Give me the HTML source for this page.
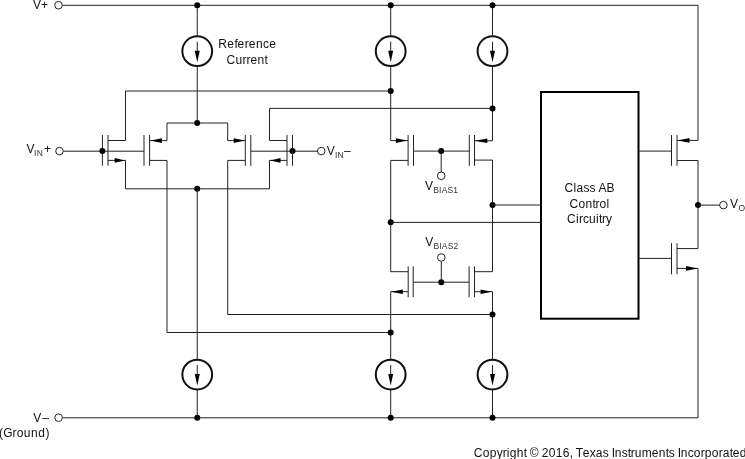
<!DOCTYPE html>
<html><head><meta charset="utf-8"><style>
html,body{margin:0;padding:0;background:#fff;}
svg{display:block;will-change:transform;font-family:"Liberation Sans",sans-serif;}
</style></head><body>
<svg width="745" height="459" viewBox="0 0 745 459">
<rect width="745" height="459" fill="#fff"/>
<polyline points="62.6,5.3 698,5.3 698,140.4" fill="none" stroke="#222" stroke-width="1"/>
<circle cx="58.5" cy="5.2" r="3.8" fill="#fff" stroke="#222" stroke-width="1"/>
<text x="33.05 41.05" y="8.7" font-size="12" fill="#111">V+</text>
<polyline points="62.8,417.8 698,417.8 698,268.4" fill="none" stroke="#222" stroke-width="1"/>
<circle cx="58.6" cy="417.7" r="3.8" fill="#fff" stroke="#222" stroke-width="1"/>
<text x="33.15" y="421.8" font-size="12" fill="#111">V</text>
<text x="42.3" y="421.8" font-size="12" fill="#111">–</text>
<text x="-0.94 3.26 12.46 16.66 23.86 31.06 38.26 45.46" y="436.7" font-size="12" fill="#111">(Ground)</text>
<circle cx="197.25" cy="51.2" r="14.9" fill="none" stroke="#111" stroke-width="2"/>
<polyline points="197.25,41.7 197.25,52.2" fill="none" stroke="#222" stroke-width="1"/>
<polygon points="197.25,62.2 194.75,50.7 199.75,50.7" fill="#000"/>
<polyline points="197.25,5 197.25,36.3" fill="none" stroke="#222" stroke-width="1"/>
<circle cx="197.25" cy="5.3" r="3.0" fill="#000"/>
<circle cx="197.25" cy="374.6" r="14.9" fill="none" stroke="#111" stroke-width="2"/>
<polyline points="197.25,365.1 197.25,375.6" fill="none" stroke="#222" stroke-width="1"/>
<polygon points="197.25,385.6 194.75,374.1 199.75,374.1" fill="#000"/>
<polyline points="197.25,389.5 197.25,417.8" fill="none" stroke="#222" stroke-width="1"/>
<circle cx="197.25" cy="417.7" r="3.0" fill="#000"/>
<circle cx="390.7" cy="51.2" r="14.9" fill="none" stroke="#111" stroke-width="2"/>
<polyline points="390.7,41.7 390.7,52.2" fill="none" stroke="#222" stroke-width="1"/>
<polygon points="390.7,62.2 388.2,50.7 393.2,50.7" fill="#000"/>
<polyline points="390.7,5 390.7,36.3" fill="none" stroke="#222" stroke-width="1"/>
<circle cx="390.7" cy="5.3" r="3.0" fill="#000"/>
<circle cx="390.7" cy="374.6" r="14.9" fill="none" stroke="#111" stroke-width="2"/>
<polyline points="390.7,365.1 390.7,375.6" fill="none" stroke="#222" stroke-width="1"/>
<polygon points="390.7,385.6 388.2,374.1 393.2,374.1" fill="#000"/>
<polyline points="390.7,389.5 390.7,417.8" fill="none" stroke="#222" stroke-width="1"/>
<circle cx="390.7" cy="417.7" r="3.0" fill="#000"/>
<circle cx="492.5" cy="51.2" r="14.9" fill="none" stroke="#111" stroke-width="2"/>
<polyline points="492.5,41.7 492.5,52.2" fill="none" stroke="#222" stroke-width="1"/>
<polygon points="492.5,62.2 490.0,50.7 495.0,50.7" fill="#000"/>
<polyline points="492.5,5 492.5,36.3" fill="none" stroke="#222" stroke-width="1"/>
<circle cx="492.5" cy="5.3" r="3.0" fill="#000"/>
<circle cx="492.5" cy="374.6" r="14.9" fill="none" stroke="#111" stroke-width="2"/>
<polyline points="492.5,365.1 492.5,375.6" fill="none" stroke="#222" stroke-width="1"/>
<polygon points="492.5,385.6 490.0,374.1 495.0,374.1" fill="#000"/>
<polyline points="492.5,389.5 492.5,417.8" fill="none" stroke="#222" stroke-width="1"/>
<circle cx="492.5" cy="417.7" r="3.0" fill="#000"/>
<polyline points="197.25,66 197.25,123" fill="none" stroke="#222" stroke-width="1"/>
<polyline points="390.7,66 390.7,140.6" fill="none" stroke="#222" stroke-width="1"/>
<polyline points="492.5,66 492.5,140.8" fill="none" stroke="#222" stroke-width="1"/>
<circle cx="390.7" cy="91" r="3.0" fill="#000"/>
<circle cx="492.5" cy="108.4" r="3.0" fill="#000"/>
<text x="218.22 227.34 234.46 237.58 244.7 248.82 255.94 263.06 269.18" y="48" font-size="12" fill="#111">Reference</text>
<text x="226.39 235.39 242.39 246.39 250.39 257.39 264.39" y="63.7" font-size="12" fill="#111">Current</text>
<polyline points="125.5,91 390.7,91" fill="none" stroke="#222" stroke-width="1"/>
<polyline points="125.5,91 125.5,140.5 108,140.5" fill="none" stroke="#222" stroke-width="1"/>
<polyline points="108,135 108,165.8" fill="none" stroke="#222" stroke-width="1"/>
<polyline points="102.4,135 102.4,165.8" fill="none" stroke="#222" stroke-width="1"/>
<polyline points="108,160.4 125.5,160.4 125.5,188.8 269.5,188.8 269.5,160.4 287,160.4" fill="none" stroke="#222" stroke-width="1"/>
<polygon points="125,160.4 114.7,158.1 114.7,162.70000000000002" fill="#000"/>
<circle cx="197.2" cy="188.8" r="3.0" fill="#000"/>
<polyline points="63.3,151.2 144,151.2" fill="none" stroke="#222" stroke-width="1"/>
<circle cx="102.4" cy="151.1" r="3.0" fill="#000"/>
<circle cx="59.5" cy="151.1" r="3.8" fill="#fff" stroke="#222" stroke-width="1"/>
<polyline points="144,135 144,165.8" fill="none" stroke="#222" stroke-width="1"/>
<polyline points="149.6,135 149.6,165.8" fill="none" stroke="#222" stroke-width="1"/>
<polyline points="149.6,140.6 167,140.6 167,123 227.7,123 227.7,140.6 245.3,140.6" fill="none" stroke="#222" stroke-width="1"/>
<polygon points="150.8,140.6 161.9,138.29999999999998 161.9,142.9" fill="#000"/>
<circle cx="197.2" cy="123" r="3.0" fill="#000"/>
<polyline points="149.6,160.4 167,160.4 167,332.5 390.7,332.5" fill="none" stroke="#222" stroke-width="1"/>
<polyline points="245.3,135 245.3,165.8" fill="none" stroke="#222" stroke-width="1"/>
<polyline points="250.8,135 250.8,165.8" fill="none" stroke="#222" stroke-width="1"/>
<polygon points="244.6,140.6 233.7,138.29999999999998 233.7,142.9" fill="#000"/>
<polyline points="245.3,160.4 227.7,160.4 227.7,314.5 492.5,314.5" fill="none" stroke="#222" stroke-width="1"/>
<polyline points="250.8,151.2 317.4,151.2" fill="none" stroke="#222" stroke-width="1"/>
<circle cx="292.5" cy="151.1" r="3.0" fill="#000"/>
<polyline points="287,135 287,165.8" fill="none" stroke="#222" stroke-width="1"/>
<polyline points="292.5,135 292.5,165.8" fill="none" stroke="#222" stroke-width="1"/>
<polyline points="287,140.5 269.5,140.5 269.5,108.4 492.5,108.4" fill="none" stroke="#222" stroke-width="1"/>
<polygon points="270.2,160.4 280.5,158.1 280.5,162.70000000000002" fill="#000"/>
<circle cx="321.2" cy="151.1" r="3.8" fill="#fff" stroke="#222" stroke-width="1"/>
<polyline points="197.25,188.8 197.25,359.5" fill="none" stroke="#222" stroke-width="1"/>
<text x="26.45" y="152.7" font-size="12" fill="#111">V</text>
<text x="34.12 36.68" y="156" font-size="8.5" fill="#333">IN</text>
<text x="44.01" y="152.5" font-size="12" fill="#111">+</text>
<text x="326.65" y="155.1" font-size="12" fill="#111">V</text>
<text x="334.92 337.48" y="158" font-size="8.5" fill="#333">IN</text>
<text x="344.0" y="155" font-size="12" fill="#111">–</text>
<polyline points="408.1,135 408.1,165.8" fill="none" stroke="#222" stroke-width="1"/>
<polyline points="413.5,135 413.5,165.8" fill="none" stroke="#222" stroke-width="1"/>
<polyline points="390.7,140.6 408.1,140.6" fill="none" stroke="#222" stroke-width="1"/>
<polygon points="407.3,140.6 395.9,138.29999999999998 395.9,142.9" fill="#000"/>
<polyline points="408.1,160.4 390.7,160.4 390.7,271.7 408.2,271.7" fill="none" stroke="#222" stroke-width="1"/>
<polyline points="413.5,151.1 469.3,151.1" fill="none" stroke="#222" stroke-width="1"/>
<circle cx="441.2" cy="151.1" r="3.0" fill="#000"/>
<polyline points="441.2,151.1 441.2,172" fill="none" stroke="#222" stroke-width="1"/>
<circle cx="441.2" cy="175.8" r="3.8" fill="#fff" stroke="#222" stroke-width="1"/>
<text x="425.05" y="190" font-size="12" fill="#111">V</text>
<text x="433.2 439.07 441.63 447.5 453.37" y="193" font-size="8.5" fill="#333">BIAS1</text>
<polyline points="469.3,135 469.3,165.8" fill="none" stroke="#222" stroke-width="1"/>
<polyline points="474.5,135 474.5,165.8" fill="none" stroke="#222" stroke-width="1"/>
<polyline points="474.5,140.8 492.5,140.8" fill="none" stroke="#222" stroke-width="1"/>
<polygon points="475,140.8 487.3,138.5 487.3,143.10000000000002" fill="#000"/>
<polyline points="474.5,160.1 492.5,160.1 492.5,271.7 474.5,271.7" fill="none" stroke="#222" stroke-width="1"/>
<circle cx="492.5" cy="205" r="3.0" fill="#000"/>
<polyline points="492.5,205 541,205" fill="none" stroke="#222" stroke-width="1"/>
<circle cx="390.7" cy="222.3" r="3.0" fill="#000"/>
<polyline points="390.7,222.4 541,222.4" fill="none" stroke="#222" stroke-width="1"/>
<polyline points="408.2,266.3 408.2,297.2" fill="none" stroke="#222" stroke-width="1"/>
<polyline points="413.2,266.3 413.2,297.2" fill="none" stroke="#222" stroke-width="1"/>
<polyline points="469.1,266.3 469.1,297.2" fill="none" stroke="#222" stroke-width="1"/>
<polyline points="474.5,266.3 474.5,297.2" fill="none" stroke="#222" stroke-width="1"/>
<polyline points="413.2,282.2 469.1,282.2" fill="none" stroke="#222" stroke-width="1"/>
<circle cx="441.3" cy="282.2" r="3.0" fill="#000"/>
<polyline points="441.3,282.2 441.3,261.5" fill="none" stroke="#222" stroke-width="1"/>
<circle cx="441.3" cy="257.5" r="3.8" fill="#fff" stroke="#222" stroke-width="1"/>
<text x="425.35" y="245.9" font-size="12" fill="#111">V</text>
<text x="433.4 439.27 441.83 447.7 453.57" y="249" font-size="8.5" fill="#333">BIAS2</text>
<polyline points="408.2,291.7 390.7,291.7 390.7,359.5" fill="none" stroke="#222" stroke-width="1"/>
<polygon points="391.1,291.7 402.8,289.4 402.8,294.0" fill="#000"/>
<polyline points="474.5,291.7 492.5,291.7 492.5,359.5" fill="none" stroke="#222" stroke-width="1"/>
<polygon points="491.7,291.7 480.6,289.4 480.6,294.0" fill="#000"/>
<circle cx="390.7" cy="332.6" r="3.0" fill="#000"/>
<circle cx="492.5" cy="314.6" r="3.0" fill="#000"/>
<rect x="541" y="92" width="97.5" height="226.7" fill="none" stroke="#000" stroke-width="2"/>
<text x="564.6 573.6 576.6 583.6 589.6 595.6 598.6 606.6" y="192.1" font-size="12" fill="#111">Class AB</text>
<text x="569.6 578.6 585.6 592.6 595.6 599.6 606.6" y="207.6" font-size="12" fill="#111">Control</text>
<text x="567.1 576.1 579.1 583.1 589.1 596.1 599.1 602.1 606.1" y="222.8" font-size="12" fill="#111">Circuitry</text>
<polyline points="638.5,151.1 671.5,151.1" fill="none" stroke="#222" stroke-width="1"/>
<polyline points="671.5,135 671.5,165.8" fill="none" stroke="#222" stroke-width="1"/>
<polyline points="677,135 677,165.8" fill="none" stroke="#222" stroke-width="1"/>
<polyline points="677,140.4 698,140.4" fill="none" stroke="#222" stroke-width="1"/>
<polygon points="677.6,140.4 689.5,138.1 689.5,142.70000000000002" fill="#000"/>
<polyline points="677,160.5 698,160.5 698,248.6 677,248.6" fill="none" stroke="#222" stroke-width="1"/>
<circle cx="698" cy="205.1" r="3.0" fill="#000"/>
<polyline points="698,205.1 719.6,205.1" fill="none" stroke="#222" stroke-width="1"/>
<circle cx="723.4" cy="205.1" r="3.8" fill="#fff" stroke="#222" stroke-width="1"/>
<text x="729.95" y="208.1" font-size="12" fill="#111">V</text>
<text x="738.5" y="210.7" font-size="8.5" fill="#333">O</text>
<polyline points="638.5,258.4 671.5,258.4" fill="none" stroke="#222" stroke-width="1"/>
<polyline points="671.5,243.2 671.5,274.3" fill="none" stroke="#222" stroke-width="1"/>
<polyline points="677,243.2 677,274.3" fill="none" stroke="#222" stroke-width="1"/>
<polyline points="677,268.4 698,268.4" fill="none" stroke="#222" stroke-width="1"/>
<polygon points="697.6,268.4 686,266.09999999999997 686,270.7" fill="#000"/>
<text x="473.79 482.79 489.79 496.79 502.79 506.79 509.79 516.79 523.79 526.79 529.79 538.79 541.79 548.79 555.79 562.79 569.79 572.79 575.79 582.79 589.79 595.79 602.79 608.79 611.79 614.79 621.79 627.79 630.79 634.79 641.79 651.79 658.79 665.79 668.79 674.79 677.79 680.79 687.79 693.79 700.79 704.79 711.79 718.79 722.79 729.79 732.79 739.79" y="456.6" font-size="12" fill="#111">Copyright © 2016, Texas Instruments Incorporated</text>
</svg></body></html>
